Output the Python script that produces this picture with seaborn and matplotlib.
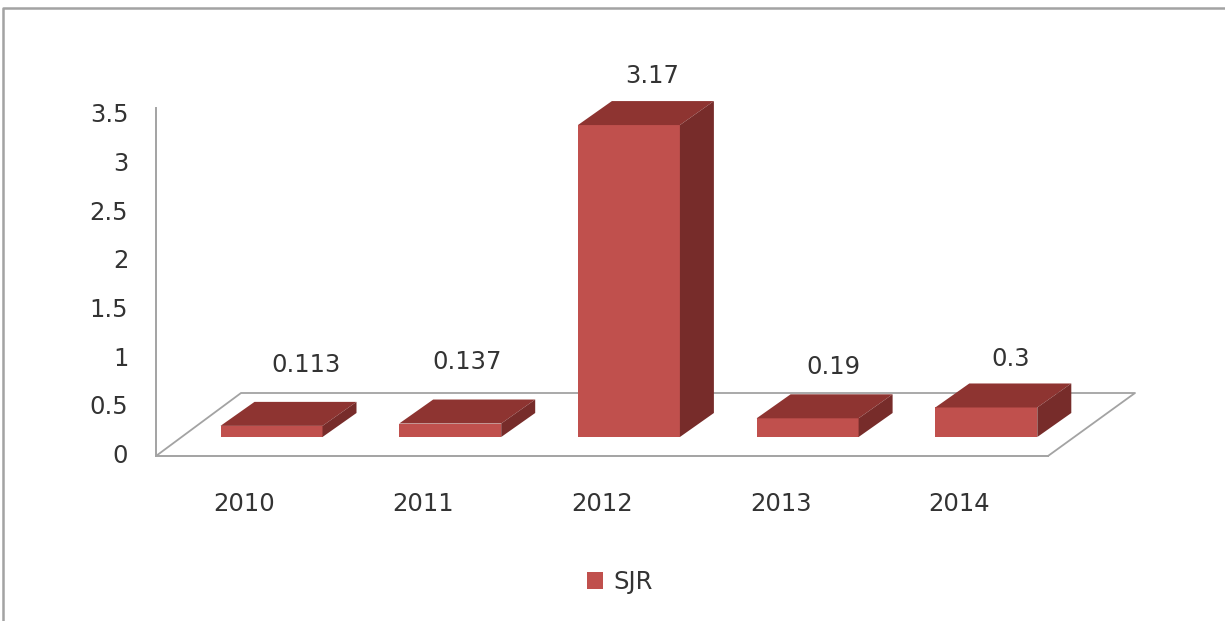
import numpy as np
import pandas as pd
import seaborn as sns
import matplotlib.pyplot as plt
from matplotlib.lines import Line2D
from matplotlib.transforms import ScaledTranslation

years = ['2010', '2011', '2012', '2013', '2014']
sjr = [0.113, 0.137, 3.17, 0.19, 0.3]
value_labels = ['0.113', '0.137', '3.17', '0.19', '0.3']
y_tick_values = [0, 0.5, 1, 1.5, 2, 2.5, 3, 3.5]
y_tick_labels = ['0', '0.5', '1', '1.5', '2', '2.5', '3', '3.5']

FIG_W, FIG_H = 1225, 621
# pixel geometry of the fake 3d box
X0_PX, X_STEP_PX = 271.5, 178.7
BASE_PX, Y_STEP_PX = 437, 98.4
LEFT_PX, RIGHT_PX, TOP_PX, BOTTOM_PX = 156, 1135, 108, 456
BAR_DX, BAR_DY = 34 / X_STEP_PX, 24 / Y_STEP_PX
FLOOR_DX, FLOOR_DY = 85 / X_STEP_PX, 63 / Y_STEP_PX
GREY = '#a3a3a3'
TEXT = '#333333'
FRONT, TOP, SIDE = '#c0504d', '#8e3431', '#772c2a'
FONT_SIZE = 17.5

sns.set_theme(style='white')
plt.rcParams['font.family'] = ['DejaVu Sans']

fig = plt.figure(figsize=(FIG_W / 100, FIG_H / 100), dpi=100)
ax = fig.add_axes([LEFT_PX / FIG_W, 1 - BOTTOM_PX / FIG_H,
                   (RIGHT_PX - LEFT_PX) / FIG_W, (BOTTOM_PX - TOP_PX) / FIG_H])
ax.patch.set_alpha(0)

data = pd.DataFrame({'year': years, 'sjr': sjr})
sns.barplot(data=data, x='year', y='sjr', color=FRONT, saturation=1, width=102 / X_STEP_PX,
            label='SJR', legend=False, linewidth=0, ax=ax, zorder=3)
ax.set_xlim((LEFT_PX - X0_PX) / X_STEP_PX, (RIGHT_PX - X0_PX) / X_STEP_PX)
ax.set_ylim((BASE_PX - BOTTOM_PX) / Y_STEP_PX, (BASE_PX - TOP_PX) / Y_STEP_PX)
ax.set_xlabel('')
ax.set_ylabel('')

# top and side faces come from the bars seaborn just drew
for bar in list(ax.patches):
    x0, x1 = bar.get_x(), bar.get_x() + bar.get_width()
    h = bar.get_height()
    ax.fill([x0, x1, x1 + BAR_DX, x0 + BAR_DX], [h, h, h + BAR_DY, h + BAR_DY],
            color=TOP, lw=0, zorder=3, clip_on=False)
    ax.fill([x1, x1 + BAR_DX, x1 + BAR_DX, x1], [0, BAR_DY, h + BAR_DY, h],
            color=SIDE, lw=0, zorder=3, clip_on=False)

# floor outline
y_lo = ax.get_ylim()[0]
x_lo, x_hi = ax.get_xlim()
x_front = (1048 - X0_PX) / X_STEP_PX
ax.plot([x_lo, x_lo + FLOOR_DX, x_hi, x_front],
        [y_lo, y_lo + FLOOR_DY, y_lo + FLOOR_DY, y_lo],
        color=GREY, lw=1.3, zorder=1, clip_on=False)

sns.despine(ax=ax, top=True, right=True)
for side in ['left', 'bottom']:
    ax.spines[side].set_color(GREY)
    ax.spines[side].set_linewidth(1.4)
ax.spines['bottom'].set_bounds(x_lo, x_front)

# the value scale sits on the front wall, slightly lower than the bars' base
tick_pos = [(BASE_PX - 453.5 + 97.4 * v) / Y_STEP_PX for v in y_tick_values]
ax.set_yticks(tick_pos, y_tick_labels)
ax.tick_params(axis='y', length=0, pad=20, labelsize=FONT_SIZE, labelcolor=TEXT)
ax.tick_params(axis='x', length=0, pad=26, labelsize=FONT_SIZE, labelcolor=TEXT)
shift = ScaledTranslation(-27 / 100, 0, fig.dpi_scale_trans)
for lab in ax.get_xticklabels():
    lab.set_transform(lab.get_transform() + shift)

# label offsets from the front top of each bar, in pixels
offsets = [(34.5, 61), (17, 61.5), (23, 49), (26, 51), (24.5, 48.5)]
for i, (val, text) in enumerate(zip(sjr, value_labels)):
    ax.annotate(text, xy=(i, val), xytext=offsets[i], textcoords='offset pixels',
                ha='center', va='center', fontsize=FONT_SIZE, color=TEXT, annotation_clip=False)

handles, labels = ax.get_legend_handles_labels()
fig.legend(handles, labels, loc='center', bbox_to_anchor=(620 / FIG_W, 1 - 582 / FIG_H),
           frameon=False, fontsize=FONT_SIZE, handlelength=0.66, handleheight=0.66,
           handletextpad=0.42, labelcolor=TEXT)

# outer chart frame: only top and left show, both run off the image
fig.add_artist(Line2D([3 / FIG_W, 3 / FIG_W, 1], [0, 1 - 8 / FIG_H, 1 - 8 / FIG_H],
                      transform=fig.transFigure, color=GREY, lw=1.8))

fig.savefig('out.png', dpi=100)
